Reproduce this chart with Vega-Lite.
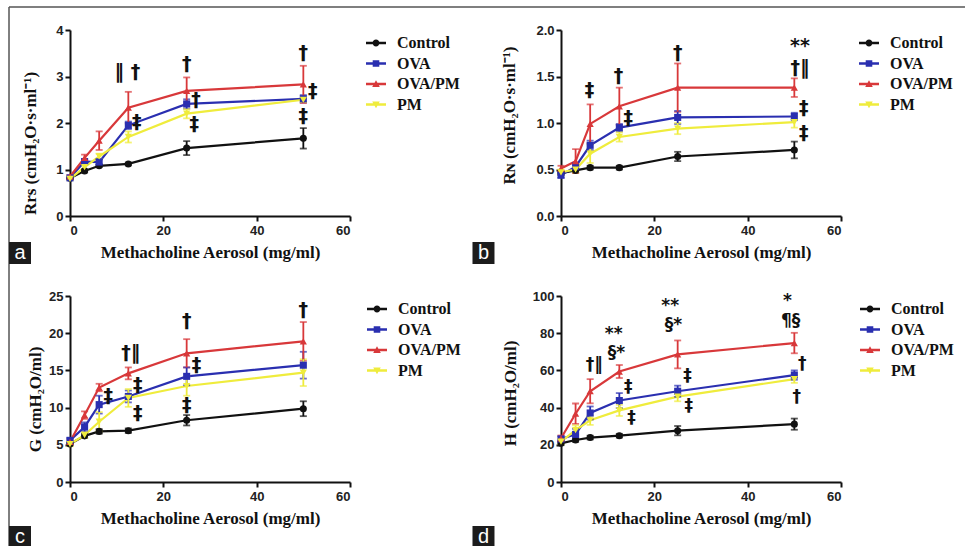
{
  "$schema": "https://vega.github.io/schema/vega-lite/v6.json",
  "background": "white",
  "padding": {"left": 8, "top": 6, "right": 0, "bottom": 0},
  "columns": 2,
  "spacing": {"column": 211, "row": 80},
  "bounds": "flush",
  "resolve": {
    "scale": {"x": "independent", "y": "independent", "color": "independent", "shape": "independent"},
    "legend": {"color": "independent", "shape": "independent"}
  },
  "datasets": {
    "curves": [
      {"panel": "a", "group": "Control", "dose": 0, "value": 0.81, "sem": 0.02},
      {"panel": "a", "group": "Control", "dose": 3.125, "value": 0.97, "sem": 0.03},
      {"panel": "a", "group": "Control", "dose": 6.25, "value": 1.08, "sem": 0.03},
      {"panel": "a", "group": "Control", "dose": 12.5, "value": 1.12, "sem": 0.03},
      {"panel": "a", "group": "Control", "dose": 25, "value": 1.46, "sem": 0.15},
      {"panel": "a", "group": "Control", "dose": 50, "value": 1.67, "sem": 0.22},
      {"panel": "a", "group": "OVA", "dose": 0, "value": 0.82, "sem": 0.03},
      {"panel": "a", "group": "OVA", "dose": 3.125, "value": 1.17, "sem": 0.05},
      {"panel": "a", "group": "OVA", "dose": 6.25, "value": 1.16, "sem": 0.06},
      {"panel": "a", "group": "OVA", "dose": 12.5, "value": 1.95, "sem": 0.08},
      {"panel": "a", "group": "OVA", "dose": 25, "value": 2.41, "sem": 0.1},
      {"panel": "a", "group": "OVA", "dose": 50, "value": 2.52, "sem": 0.08},
      {"panel": "a", "group": "OVA/PM", "dose": 0, "value": 0.85, "sem": 0.03},
      {"panel": "a", "group": "OVA/PM", "dose": 3.125, "value": 1.25, "sem": 0.07},
      {"panel": "a", "group": "OVA/PM", "dose": 6.25, "value": 1.62, "sem": 0.2},
      {"panel": "a", "group": "OVA/PM", "dose": 12.5, "value": 2.33, "sem": 0.34},
      {"panel": "a", "group": "OVA/PM", "dose": 25, "value": 2.69, "sem": 0.29},
      {"panel": "a", "group": "OVA/PM", "dose": 50, "value": 2.83, "sem": 0.4},
      {"panel": "a", "group": "PM", "dose": 0, "value": 0.8, "sem": 0.03},
      {"panel": "a", "group": "PM", "dose": 3.125, "value": 1.05, "sem": 0.05},
      {"panel": "a", "group": "PM", "dose": 6.25, "value": 1.28, "sem": 0.06},
      {"panel": "a", "group": "PM", "dose": 12.5, "value": 1.7, "sem": 0.12},
      {"panel": "a", "group": "PM", "dose": 25, "value": 2.2, "sem": 0.1},
      {"panel": "a", "group": "PM", "dose": 50, "value": 2.5, "sem": 0.05},

      {"panel": "b", "group": "Control", "dose": 0, "value": 0.46, "sem": 0.02},
      {"panel": "b", "group": "Control", "dose": 3.125, "value": 0.49, "sem": 0.02},
      {"panel": "b", "group": "Control", "dose": 6.25, "value": 0.52, "sem": 0.02},
      {"panel": "b", "group": "Control", "dose": 12.5, "value": 0.52, "sem": 0.02},
      {"panel": "b", "group": "Control", "dose": 25, "value": 0.64, "sem": 0.05},
      {"panel": "b", "group": "Control", "dose": 50, "value": 0.71, "sem": 0.09},
      {"panel": "b", "group": "OVA", "dose": 0, "value": 0.44, "sem": 0.03},
      {"panel": "b", "group": "OVA", "dose": 3.125, "value": 0.53, "sem": 0.04},
      {"panel": "b", "group": "OVA", "dose": 6.25, "value": 0.76, "sem": 0.05},
      {"panel": "b", "group": "OVA", "dose": 12.5, "value": 0.95, "sem": 0.04},
      {"panel": "b", "group": "OVA", "dose": 25, "value": 1.06, "sem": 0.07},
      {"panel": "b", "group": "OVA", "dose": 50, "value": 1.07, "sem": 0.04},
      {"panel": "b", "group": "OVA/PM", "dose": 0, "value": 0.51, "sem": 0.03},
      {"panel": "b", "group": "OVA/PM", "dose": 3.125, "value": 0.59, "sem": 0.13},
      {"panel": "b", "group": "OVA/PM", "dose": 6.25, "value": 0.99, "sem": 0.21},
      {"panel": "b", "group": "OVA/PM", "dose": 12.5, "value": 1.18, "sem": 0.2},
      {"panel": "b", "group": "OVA/PM", "dose": 25, "value": 1.38, "sem": 0.26},
      {"panel": "b", "group": "OVA/PM", "dose": 50, "value": 1.38, "sem": 0.1},
      {"panel": "b", "group": "PM", "dose": 0, "value": 0.47, "sem": 0.03},
      {"panel": "b", "group": "PM", "dose": 3.125, "value": 0.5, "sem": 0.03},
      {"panel": "b", "group": "PM", "dose": 6.25, "value": 0.67, "sem": 0.1},
      {"panel": "b", "group": "PM", "dose": 12.5, "value": 0.85, "sem": 0.05},
      {"panel": "b", "group": "PM", "dose": 25, "value": 0.94, "sem": 0.06},
      {"panel": "b", "group": "PM", "dose": 50, "value": 1.01, "sem": 0.06},

      {"panel": "c", "group": "Control", "dose": 0, "value": 5.1, "sem": 0.2},
      {"panel": "c", "group": "Control", "dose": 3.125, "value": 6.2, "sem": 0.3},
      {"panel": "c", "group": "Control", "dose": 6.25, "value": 6.8, "sem": 0.3},
      {"panel": "c", "group": "Control", "dose": 12.5, "value": 6.9, "sem": 0.3},
      {"panel": "c", "group": "Control", "dose": 25, "value": 8.3, "sem": 0.7},
      {"panel": "c", "group": "Control", "dose": 50, "value": 9.85, "sem": 1.0},
      {"panel": "c", "group": "OVA", "dose": 0, "value": 5.6, "sem": 0.3},
      {"panel": "c", "group": "OVA", "dose": 3.125, "value": 7.4, "sem": 0.6},
      {"panel": "c", "group": "OVA", "dose": 6.25, "value": 10.4, "sem": 1.2},
      {"panel": "c", "group": "OVA", "dose": 12.5, "value": 11.5, "sem": 0.8},
      {"panel": "c", "group": "OVA", "dose": 25, "value": 14.2, "sem": 1.2},
      {"panel": "c", "group": "OVA", "dose": 50, "value": 15.7, "sem": 1.8},
      {"panel": "c", "group": "OVA/PM", "dose": 0, "value": 5.4, "sem": 0.3},
      {"panel": "c", "group": "OVA/PM", "dose": 3.125, "value": 9.0, "sem": 0.5},
      {"panel": "c", "group": "OVA/PM", "dose": 6.25, "value": 12.7, "sem": 0.5},
      {"panel": "c", "group": "OVA/PM", "dose": 12.5, "value": 14.6, "sem": 0.8},
      {"panel": "c", "group": "OVA/PM", "dose": 25, "value": 17.3, "sem": 1.9},
      {"panel": "c", "group": "OVA/PM", "dose": 50, "value": 18.9, "sem": 2.6},
      {"panel": "c", "group": "PM", "dose": 0, "value": 5.1, "sem": 0.3},
      {"panel": "c", "group": "PM", "dose": 3.125, "value": 6.3, "sem": 0.4},
      {"panel": "c", "group": "PM", "dose": 6.25, "value": 8.1, "sem": 1.3},
      {"panel": "c", "group": "PM", "dose": 12.5, "value": 11.3, "sem": 1.2},
      {"panel": "c", "group": "PM", "dose": 25, "value": 12.9, "sem": 1.3},
      {"panel": "c", "group": "PM", "dose": 50, "value": 14.7, "sem": 1.8},

      {"panel": "d", "group": "Control", "dose": 0, "value": 20.8, "sem": 1},
      {"panel": "d", "group": "Control", "dose": 3.125, "value": 22.6, "sem": 1},
      {"panel": "d", "group": "Control", "dose": 6.25, "value": 23.9, "sem": 1},
      {"panel": "d", "group": "Control", "dose": 12.5, "value": 24.9, "sem": 1},
      {"panel": "d", "group": "Control", "dose": 25, "value": 27.6, "sem": 2.5},
      {"panel": "d", "group": "Control", "dose": 50, "value": 31.1, "sem": 3},
      {"panel": "d", "group": "OVA", "dose": 0, "value": 23.1, "sem": 1.5},
      {"panel": "d", "group": "OVA", "dose": 3.125, "value": 25.6, "sem": 3},
      {"panel": "d", "group": "OVA", "dose": 6.25, "value": 37.1, "sem": 3.5},
      {"panel": "d", "group": "OVA", "dose": 12.5, "value": 43.8, "sem": 4},
      {"panel": "d", "group": "OVA", "dose": 25, "value": 48.8, "sem": 3},
      {"panel": "d", "group": "OVA", "dose": 50, "value": 57.5, "sem": 2.5},
      {"panel": "d", "group": "OVA/PM", "dose": 0, "value": 23.5, "sem": 1.5},
      {"panel": "d", "group": "OVA/PM", "dose": 3.125, "value": 36.7, "sem": 5.5},
      {"panel": "d", "group": "OVA/PM", "dose": 6.25, "value": 48.8, "sem": 6.5},
      {"panel": "d", "group": "OVA/PM", "dose": 12.5, "value": 59.4, "sem": 3.5},
      {"panel": "d", "group": "OVA/PM", "dose": 25, "value": 68.6, "sem": 7.5},
      {"panel": "d", "group": "OVA/PM", "dose": 50, "value": 74.7, "sem": 5.5},
      {"panel": "d", "group": "PM", "dose": 0, "value": 21.7, "sem": 1.5},
      {"panel": "d", "group": "PM", "dose": 3.125, "value": 27.9, "sem": 2.5},
      {"panel": "d", "group": "PM", "dose": 6.25, "value": 33.2, "sem": 2.5},
      {"panel": "d", "group": "PM", "dose": 12.5, "value": 38.5, "sem": 3},
      {"panel": "d", "group": "PM", "dose": 25, "value": 45.9, "sem": 2.5},
      {"panel": "d", "group": "PM", "dose": 50, "value": 55.3, "sem": 2}
    ],
    "notes": [
      {"panel": "a", "dose": 12.3, "value": 3.1, "label": "‖ †"},
      {"panel": "a", "dose": 25, "value": 3.27, "label": "†"},
      {"panel": "a", "dose": 50, "value": 3.5, "label": "†"},
      {"panel": "a", "dose": 14.3, "value": 2.02, "label": "‡"},
      {"panel": "a", "dose": 27, "value": 2.5, "label": "†"},
      {"panel": "a", "dose": 26.6, "value": 1.97, "label": "‡"},
      {"panel": "a", "dose": 52, "value": 2.69, "label": "‡"},
      {"panel": "a", "dose": 50, "value": 2.16, "label": "‡"},
      {"panel": "b", "dose": 6.1, "value": 1.36, "label": "‡"},
      {"panel": "b", "dose": 12.3, "value": 1.51, "label": "†"},
      {"panel": "b", "dose": 25, "value": 1.75, "label": "†"},
      {"panel": "b", "dose": 51.2, "value": 1.83, "label": "**"},
      {"panel": "b", "dose": 51.2, "value": 1.59, "label": "†‖"},
      {"panel": "b", "dose": 14.4, "value": 1.05, "label": "‡"},
      {"panel": "b", "dose": 52, "value": 1.16, "label": "‡"},
      {"panel": "b", "dose": 52, "value": 0.89, "label": "‡"},
      {"panel": "c", "dose": 13.0, "value": 17.4, "label": "†‖"},
      {"panel": "c", "dose": 25, "value": 21.7, "label": "†"},
      {"panel": "c", "dose": 50, "value": 23.1, "label": "†"},
      {"panel": "c", "dose": 8.2, "value": 11.6, "label": "‡"},
      {"panel": "c", "dose": 14.5, "value": 13.1, "label": "‡"},
      {"panel": "c", "dose": 14.5, "value": 9.3, "label": "‡"},
      {"panel": "c", "dose": 27.1, "value": 15.7, "label": "‡"},
      {"panel": "c", "dose": 25, "value": 10.4, "label": "‡"},
      {"panel": "d", "dose": 7.1, "value": 62.9, "label": "†‖"},
      {"panel": "d", "dose": 11.3, "value": 79.6, "label": "**"},
      {"panel": "d", "dose": 11.9, "value": 69.6, "label": "§*"},
      {"panel": "d", "dose": 23.4, "value": 94.6, "label": "**"},
      {"panel": "d", "dose": 24.1, "value": 84.4, "label": "§*"},
      {"panel": "d", "dose": 48.5, "value": 97.2, "label": "*"},
      {"panel": "d", "dose": 49.2, "value": 86.7, "label": "¶§"},
      {"panel": "d", "dose": 51.7, "value": 63.6, "label": "†"},
      {"panel": "d", "dose": 50.5, "value": 45.6, "label": "†"},
      {"panel": "d", "dose": 14.4, "value": 50.9, "label": "‡"},
      {"panel": "d", "dose": 15.1, "value": 34.6, "label": "‡"},
      {"panel": "d", "dose": 27.1, "value": 57, "label": "‡"},
      {"panel": "d", "dose": 27.4, "value": 40.6, "label": "‡"}
    ],
    "tags": [
      {"panel": "a", "dose": -10.71, "value": -0.796, "tag": "a"},
      {"panel": "b", "dose": -16.61, "value": -0.398, "tag": "b"},
      {"panel": "c", "dose": -10.71, "value": -7.39, "tag": "c"},
      {"panel": "d", "dose": -16.61, "value": -29.57, "tag": "d"}
    ],
    "frame": [
      {"panel": "a", "dose": -13.07, "value": 4.495, "dose2": 87.86, "value2": 4.495},
      {"panel": "a", "dose": -13.07, "value": 4.495, "dose2": -13.07, "value2": -1.226},
      {"panel": "b", "dose": -17.36, "value": 2.247, "dose2": 86.57, "value2": 2.247},
      {"panel": "c", "dose": -13.07, "value": 28.09, "dose2": -13.07, "value2": -8.6}
    ]
  },
  "concat": [
    {
      "width": 280, "height": 186,
      "encoding": {
        "x": {"field": "dose", "type": "quantitative", "scale": {"domain": [0, 60], "nice": false}, "axis": {"values": [0, 20, 40, 60], "title": "Methacholine Aerosol (mg/ml)"}},
        "y": {"field": "value", "type": "quantitative", "scale": {"domain": [0, 4], "nice": false}, "axis": {"values": [0, 1, 2, 3, 4], "title": "Rrs (cmH₂O·s·ml⁻¹)", "titlePadding": 16, "titleY": 113}}
      },
      "layer": [
        {"data": {"name": "curves"}, "transform": [{"filter": "datum.panel == 'a' && datum.dose < 0"}], "mark": {"type": "point", "filled": true, "opacity": 1}, "encoding": {
          "color": {"field": "group", "type": "nominal", "scale": {"domain": ["Control", "OVA", "OVA/PM", "PM"], "range": ["#111111", "#2a2fb0", "#d8383a", "#efec3c"]}, "legend": {"title": null, "offset": 13}},
          "shape": {"field": "group", "type": "nominal", "scale": {"domain": ["Control", "OVA", "OVA/PM", "PM"], "range": ["M-1,-0.12H1V0.12H-1Z M0.34,0A0.34,0.34,0,1,1,-0.34,0A0.34,0.34,0,1,1,0.34,0Z", "M-1,-0.12H1V0.12H-1Z M-0.33,-0.33H0.33V0.33H-0.33Z", "M-1,-0.12H1V0.12H-1Z M0,-0.38L0.38,0.3L-0.38,0.3Z", "M-1,-0.12H1V0.12H-1Z M0,0.38L-0.38,-0.3L0.38,-0.3Z"]}, "legend": {"title": null, "offset": 13}}}},
        {"data": {"name": "frame"}, "transform": [{"filter": "datum.panel == 'a'"}], "mark": {"type": "rule", "color": "#555", "strokeWidth": 1.5}, "encoding": {"x2": {"field": "dose2"}, "y2": {"field": "value2"}}},
        {"data": {"name": "curves"}, "transform": [{"filter": "datum.panel == 'a'"}], "mark": {"type": "line", "strokeWidth": 2.2}, "encoding": {"color": {"field": "group", "type": "nominal", "scale": {"domain": ["Control", "OVA", "OVA/PM", "PM"], "range": ["#111111", "#2a2fb0", "#d8383a", "#efec3c"]}, "legend": null}}},
        {"data": {"name": "curves"}, "transform": [{"filter": "datum.panel == 'a'"}], "mark": {"type": "errorbar", "ticks": {"size": 7}, "thickness": 1.8}, "encoding": {"yError": {"field": "sem"}, "color": {"field": "group", "type": "nominal", "legend": null}}},
        {"data": {"name": "curves"}, "transform": [{"filter": "datum.panel == 'a' && datum.group == 'Control'"}], "mark": {"type": "point", "shape": "circle", "filled": true, "size": 50, "opacity": 1}, "encoding": {"color": {"field": "group", "type": "nominal", "legend": null}}},
        {"data": {"name": "curves"}, "transform": [{"filter": "datum.panel == 'a' && datum.group == 'OVA'"}], "mark": {"type": "point", "shape": "square", "filled": true, "size": 50, "opacity": 1}, "encoding": {"color": {"field": "group", "type": "nominal", "legend": null}}},
        {"data": {"name": "curves"}, "transform": [{"filter": "datum.panel == 'a' && datum.group == 'OVA/PM'"}], "mark": {"type": "point", "shape": "triangle-up", "filled": true, "size": 52, "opacity": 1}, "encoding": {"color": {"field": "group", "type": "nominal", "legend": null}}},
        {"data": {"name": "curves"}, "transform": [{"filter": "datum.panel == 'a' && datum.group == 'PM'"}], "mark": {"type": "point", "shape": "triangle-down", "filled": true, "size": 52, "opacity": 1}, "encoding": {"color": {"field": "group", "type": "nominal", "legend": null}}},
        {"data": {"name": "notes"}, "transform": [{"filter": "datum.panel == 'a'"}], "mark": {"type": "text", "font": "DejaVu Sans", "fontWeight": "bold", "fontSize": 19, "color": "#111"}, "encoding": {"text": {"field": "label"}}},
        {"data": {"name": "tags"}, "transform": [{"filter": "datum.panel == 'a'"}], "mark": {"type": "square", "size": 484, "color": "#1c1c1c", "opacity": 1}},
        {"data": {"name": "tags"}, "transform": [{"filter": "datum.panel == 'a'"}], "mark": {"type": "text", "color": "white", "font": "Liberation Sans", "fontSize": 20}, "encoding": {"text": {"field": "tag"}}}
      ]
    },
    {
      "width": 280, "height": 186,
      "encoding": {
        "x": {"field": "dose", "type": "quantitative", "scale": {"domain": [0, 60], "nice": false}, "axis": {"values": [0, 20, 40, 60], "title": "Methacholine Aerosol (mg/ml)"}},
        "y": {"field": "value", "type": "quantitative", "scale": {"domain": [0, 2], "nice": false}, "axis": {"values": [0, 0.5, 1, 1.5, 2], "format": ".1f", "title": "Rɴ (cmH₂O·s·ml⁻¹)", "titlePadding": 17, "titleY": 85}}
      },
      "layer": [
        {"data": {"name": "curves"}, "transform": [{"filter": "datum.panel == 'b' && datum.dose < 0"}], "mark": {"type": "point", "filled": true, "opacity": 1}, "encoding": {
          "color": {"field": "group", "type": "nominal", "scale": {"domain": ["Control", "OVA", "OVA/PM", "PM"], "range": ["#111111", "#2a2fb0", "#d8383a", "#efec3c"]}, "legend": {"title": null, "offset": 15}},
          "shape": {"field": "group", "type": "nominal", "scale": {"domain": ["Control", "OVA", "OVA/PM", "PM"], "range": ["M-1,-0.12H1V0.12H-1Z M0.34,0A0.34,0.34,0,1,1,-0.34,0A0.34,0.34,0,1,1,0.34,0Z", "M-1,-0.12H1V0.12H-1Z M-0.33,-0.33H0.33V0.33H-0.33Z", "M-1,-0.12H1V0.12H-1Z M0,-0.38L0.38,0.3L-0.38,0.3Z", "M-1,-0.12H1V0.12H-1Z M0,0.38L-0.38,-0.3L0.38,-0.3Z"]}, "legend": {"title": null, "offset": 15}}}},
        {"data": {"name": "frame"}, "transform": [{"filter": "datum.panel == 'b'"}], "mark": {"type": "rule", "color": "#555", "strokeWidth": 1.5}, "encoding": {"x2": {"field": "dose2"}, "y2": {"field": "value2"}}},
        {"data": {"name": "curves"}, "transform": [{"filter": "datum.panel == 'b'"}], "mark": {"type": "line", "strokeWidth": 2.2}, "encoding": {"color": {"field": "group", "type": "nominal", "scale": {"domain": ["Control", "OVA", "OVA/PM", "PM"], "range": ["#111111", "#2a2fb0", "#d8383a", "#efec3c"]}, "legend": null}}},
        {"data": {"name": "curves"}, "transform": [{"filter": "datum.panel == 'b'"}], "mark": {"type": "errorbar", "ticks": {"size": 7}, "thickness": 1.8}, "encoding": {"yError": {"field": "sem"}, "color": {"field": "group", "type": "nominal", "legend": null}}},
        {"data": {"name": "curves"}, "transform": [{"filter": "datum.panel == 'b' && datum.group == 'Control'"}], "mark": {"type": "point", "shape": "circle", "filled": true, "size": 50, "opacity": 1}, "encoding": {"color": {"field": "group", "type": "nominal", "legend": null}}},
        {"data": {"name": "curves"}, "transform": [{"filter": "datum.panel == 'b' && datum.group == 'OVA'"}], "mark": {"type": "point", "shape": "square", "filled": true, "size": 50, "opacity": 1}, "encoding": {"color": {"field": "group", "type": "nominal", "legend": null}}},
        {"data": {"name": "curves"}, "transform": [{"filter": "datum.panel == 'b' && datum.group == 'OVA/PM'"}], "mark": {"type": "point", "shape": "triangle-up", "filled": true, "size": 52, "opacity": 1}, "encoding": {"color": {"field": "group", "type": "nominal", "legend": null}}},
        {"data": {"name": "curves"}, "transform": [{"filter": "datum.panel == 'b' && datum.group == 'PM'"}], "mark": {"type": "point", "shape": "triangle-down", "filled": true, "size": 52, "opacity": 1}, "encoding": {"color": {"field": "group", "type": "nominal", "legend": null}}},
        {"data": {"name": "notes"}, "transform": [{"filter": "datum.panel == 'b'"}], "mark": {"type": "text", "font": "DejaVu Sans", "fontWeight": "bold", "fontSize": 19, "color": "#111"}, "encoding": {"text": {"field": "label"}}},
        {"data": {"name": "tags"}, "transform": [{"filter": "datum.panel == 'b'"}], "mark": {"type": "square", "size": 484, "color": "#1c1c1c", "opacity": 1}},
        {"data": {"name": "tags"}, "transform": [{"filter": "datum.panel == 'b'"}], "mark": {"type": "text", "color": "white", "font": "Liberation Sans", "fontSize": 20}, "encoding": {"text": {"field": "tag"}}}
      ]
    },
    {
      "width": 280, "height": 186,
      "encoding": {
        "x": {"field": "dose", "type": "quantitative", "scale": {"domain": [0, 60], "nice": false}, "axis": {"values": [0, 20, 40, 60], "title": "Methacholine Aerosol (mg/ml)"}},
        "y": {"field": "value", "type": "quantitative", "scale": {"domain": [0, 25], "nice": false}, "axis": {"values": [0, 5, 10, 15, 20, 25], "title": "G (cmH₂O/ml)", "titlePadding": 4, "titleY": 103}}
      },
      "layer": [
        {"data": {"name": "curves"}, "transform": [{"filter": "datum.panel == 'c' && datum.dose < 0"}], "mark": {"type": "point", "filled": true, "opacity": 1}, "encoding": {
          "color": {"field": "group", "type": "nominal", "scale": {"domain": ["Control", "OVA", "OVA/PM", "PM"], "range": ["#111111", "#2a2fb0", "#d8383a", "#efec3c"]}, "legend": {"title": null, "offset": 14}},
          "shape": {"field": "group", "type": "nominal", "scale": {"domain": ["Control", "OVA", "OVA/PM", "PM"], "range": ["M-1,-0.12H1V0.12H-1Z M0.34,0A0.34,0.34,0,1,1,-0.34,0A0.34,0.34,0,1,1,0.34,0Z", "M-1,-0.12H1V0.12H-1Z M-0.33,-0.33H0.33V0.33H-0.33Z", "M-1,-0.12H1V0.12H-1Z M0,-0.38L0.38,0.3L-0.38,0.3Z", "M-1,-0.12H1V0.12H-1Z M0,0.38L-0.38,-0.3L0.38,-0.3Z"]}, "legend": {"title": null, "offset": 14}}}},
        {"data": {"name": "frame"}, "transform": [{"filter": "datum.panel == 'c'"}], "mark": {"type": "rule", "color": "#555", "strokeWidth": 1.5}, "encoding": {"x2": {"field": "dose2"}, "y2": {"field": "value2"}}},
        {"data": {"name": "curves"}, "transform": [{"filter": "datum.panel == 'c'"}], "mark": {"type": "line", "strokeWidth": 2.2}, "encoding": {"color": {"field": "group", "type": "nominal", "scale": {"domain": ["Control", "OVA", "OVA/PM", "PM"], "range": ["#111111", "#2a2fb0", "#d8383a", "#efec3c"]}, "legend": null}}},
        {"data": {"name": "curves"}, "transform": [{"filter": "datum.panel == 'c'"}], "mark": {"type": "errorbar", "ticks": {"size": 7}, "thickness": 1.8}, "encoding": {"yError": {"field": "sem"}, "color": {"field": "group", "type": "nominal", "legend": null}}},
        {"data": {"name": "curves"}, "transform": [{"filter": "datum.panel == 'c' && datum.group == 'Control'"}], "mark": {"type": "point", "shape": "circle", "filled": true, "size": 50, "opacity": 1}, "encoding": {"color": {"field": "group", "type": "nominal", "legend": null}}},
        {"data": {"name": "curves"}, "transform": [{"filter": "datum.panel == 'c' && datum.group == 'OVA'"}], "mark": {"type": "point", "shape": "square", "filled": true, "size": 50, "opacity": 1}, "encoding": {"color": {"field": "group", "type": "nominal", "legend": null}}},
        {"data": {"name": "curves"}, "transform": [{"filter": "datum.panel == 'c' && datum.group == 'OVA/PM'"}], "mark": {"type": "point", "shape": "triangle-up", "filled": true, "size": 52, "opacity": 1}, "encoding": {"color": {"field": "group", "type": "nominal", "legend": null}}},
        {"data": {"name": "curves"}, "transform": [{"filter": "datum.panel == 'c' && datum.group == 'PM'"}], "mark": {"type": "point", "shape": "triangle-down", "filled": true, "size": 52, "opacity": 1}, "encoding": {"color": {"field": "group", "type": "nominal", "legend": null}}},
        {"data": {"name": "notes"}, "transform": [{"filter": "datum.panel == 'c'"}], "mark": {"type": "text", "font": "DejaVu Sans", "fontWeight": "bold", "fontSize": 19, "color": "#111"}, "encoding": {"text": {"field": "label"}}},
        {"data": {"name": "tags"}, "transform": [{"filter": "datum.panel == 'c'"}], "mark": {"type": "square", "size": 484, "color": "#1c1c1c", "opacity": 1}},
        {"data": {"name": "tags"}, "transform": [{"filter": "datum.panel == 'c'"}], "mark": {"type": "text", "color": "white", "font": "Liberation Sans", "fontSize": 20}, "encoding": {"text": {"field": "tag"}}}
      ]
    },
    {
      "width": 280, "height": 186,
      "encoding": {
        "x": {"field": "dose", "type": "quantitative", "scale": {"domain": [0, 60], "nice": false}, "axis": {"values": [0, 20, 40, 60], "title": "Methacholine Aerosol (mg/ml)"}},
        "y": {"field": "value", "type": "quantitative", "scale": {"domain": [0, 100], "nice": false}, "axis": {"values": [0, 20, 40, 60, 80, 100], "title": "H (cmH₂O/ml)", "titlePadding": 13, "titleY": 97}}
      },
      "layer": [
        {"data": {"name": "curves"}, "transform": [{"filter": "datum.panel == 'd' && datum.dose < 0"}], "mark": {"type": "point", "filled": true, "opacity": 1}, "encoding": {
          "color": {"field": "group", "type": "nominal", "scale": {"domain": ["Control", "OVA", "OVA/PM", "PM"], "range": ["#111111", "#2a2fb0", "#d8383a", "#efec3c"]}, "legend": {"title": null, "offset": 16}},
          "shape": {"field": "group", "type": "nominal", "scale": {"domain": ["Control", "OVA", "OVA/PM", "PM"], "range": ["M-1,-0.12H1V0.12H-1Z M0.34,0A0.34,0.34,0,1,1,-0.34,0A0.34,0.34,0,1,1,0.34,0Z", "M-1,-0.12H1V0.12H-1Z M-0.33,-0.33H0.33V0.33H-0.33Z", "M-1,-0.12H1V0.12H-1Z M0,-0.38L0.38,0.3L-0.38,0.3Z", "M-1,-0.12H1V0.12H-1Z M0,0.38L-0.38,-0.3L0.38,-0.3Z"]}, "legend": {"title": null, "offset": 16}}}},
        {"data": {"name": "curves"}, "transform": [{"filter": "datum.panel == 'd'"}], "mark": {"type": "line", "strokeWidth": 2.2}, "encoding": {"color": {"field": "group", "type": "nominal", "scale": {"domain": ["Control", "OVA", "OVA/PM", "PM"], "range": ["#111111", "#2a2fb0", "#d8383a", "#efec3c"]}, "legend": null}}},
        {"data": {"name": "curves"}, "transform": [{"filter": "datum.panel == 'd'"}], "mark": {"type": "errorbar", "ticks": {"size": 7}, "thickness": 1.8}, "encoding": {"yError": {"field": "sem"}, "color": {"field": "group", "type": "nominal", "legend": null}}},
        {"data": {"name": "curves"}, "transform": [{"filter": "datum.panel == 'd' && datum.group == 'Control'"}], "mark": {"type": "point", "shape": "circle", "filled": true, "size": 50, "opacity": 1}, "encoding": {"color": {"field": "group", "type": "nominal", "legend": null}}},
        {"data": {"name": "curves"}, "transform": [{"filter": "datum.panel == 'd' && datum.group == 'OVA'"}], "mark": {"type": "point", "shape": "square", "filled": true, "size": 50, "opacity": 1}, "encoding": {"color": {"field": "group", "type": "nominal", "legend": null}}},
        {"data": {"name": "curves"}, "transform": [{"filter": "datum.panel == 'd' && datum.group == 'OVA/PM'"}], "mark": {"type": "point", "shape": "triangle-up", "filled": true, "size": 52, "opacity": 1}, "encoding": {"color": {"field": "group", "type": "nominal", "legend": null}}},
        {"data": {"name": "curves"}, "transform": [{"filter": "datum.panel == 'd' && datum.group == 'PM'"}], "mark": {"type": "point", "shape": "triangle-down", "filled": true, "size": 52, "opacity": 1}, "encoding": {"color": {"field": "group", "type": "nominal", "legend": null}}},
        {"data": {"name": "notes"}, "transform": [{"filter": "datum.panel == 'd'"}], "mark": {"type": "text", "font": "DejaVu Sans", "fontWeight": "bold", "fontSize": 17, "color": "#111"}, "encoding": {"text": {"field": "label"}}},
        {"data": {"name": "tags"}, "transform": [{"filter": "datum.panel == 'd'"}], "mark": {"type": "square", "size": 484, "color": "#1c1c1c", "opacity": 1}},
        {"data": {"name": "tags"}, "transform": [{"filter": "datum.panel == 'd'"}], "mark": {"type": "text", "color": "white", "font": "Liberation Sans", "fontSize": 20}, "encoding": {"text": {"field": "tag"}}}
      ]
    }
  ],
  "config": {
    "view": {"stroke": null},
    "axis": {"grid": false, "domainColor": "#111", "domainWidth": 2, "tickColor": "#111", "tickWidth": 2, "tickSize": 5, "labelFont": "Liberation Sans", "labelFontWeight": "bold", "labelFontSize": 13, "labelColor": "#222", "labelPadding": 2, "titleFont": "Liberation Serif", "titleFontWeight": "bold", "titleFontSize": 17, "titleColor": "#111"},
    "axisX": {"labelPadding": 3, "titlePadding": 7},
    "legend": {"orient": "right", "symbolSize": 400, "labelFont": "Liberation Serif", "labelFontWeight": "bold", "labelFontSize": 16, "labelColor": "#111", "labelOffset": 11, "rowPadding": 2.5, "padding": 3, "symbolStrokeWidth": 0}
  }
}
